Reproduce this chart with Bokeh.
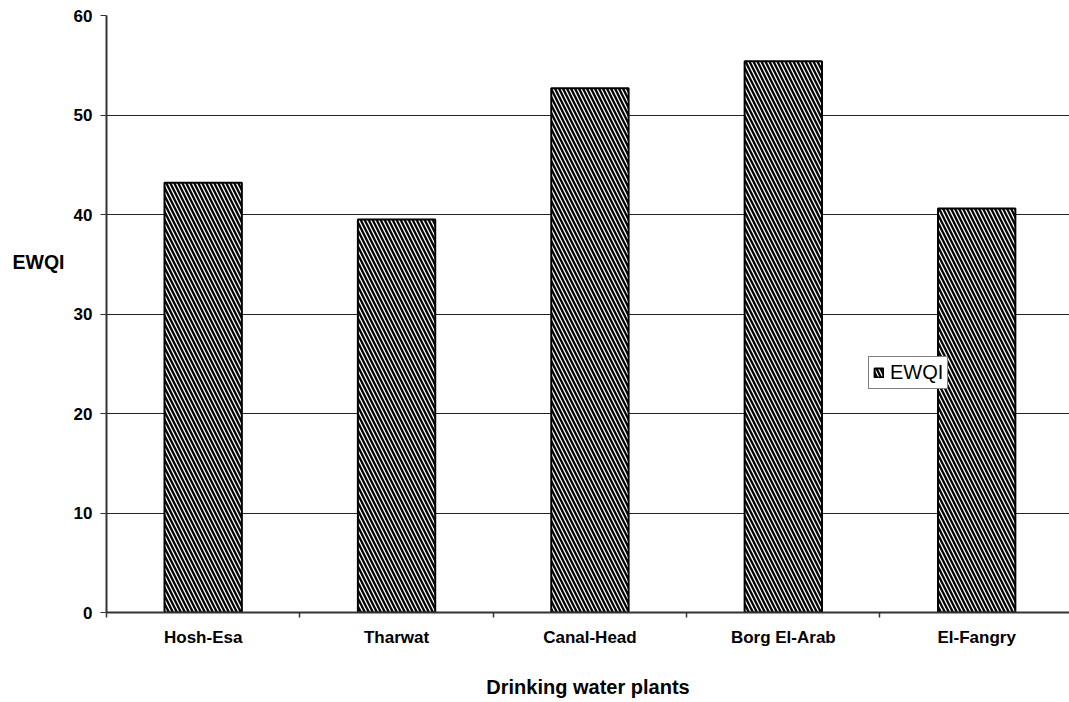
from bokeh.plotting import figure
from bokeh.models import Range1d, FixedTicker, LinearAxis, Legend, LegendItem, ColumnDataSource
from bokeh.embed import file_html
from bokeh.resources import INLINE

plants = ["Hosh-Esa", "Tharwat", "Canal-Head", "Borg El-Arab", "El-Fangry"]
ewqi = [43.2, 39.5, 52.7, 55.4, 40.6]
y_ticks = [0, 10, 20, 30, 40, 50, 60]
y_title = "EWQI"
x_title = "Drinking water plants"

xpos = [i + 0.5 for i in range(len(plants))]
src = ColumnDataSource(dict(x=xpos, top=ewqi, name=plants))

H = 700
p = figure(width=1069, height=H, output_backend="svg", toolbar_location=None,
           x_range=Range1d(0, 4.98), y_range=Range1d(0, 60),
           min_border_left=106, min_border_right=0, min_border_top=15, min_border_bottom=H - 612)
p.outline_line_color = None
p.background_fill_color = "white"

r = p.vbar(x="x", top="top", width=0.40, source=src, fill_color="white",
           line_color="black", line_width=2,
           hatch_pattern="\\", hatch_color="black", hatch_scale=8, hatch_weight=2.3)

# grid
p.xgrid.grid_line_color = None
p.ygrid.ticker = FixedTicker(ticks=y_ticks)
p.ygrid.grid_line_color = "#222222"
p.ygrid.grid_line_width = 1

# y axis
p.yaxis.ticker = FixedTicker(ticks=y_ticks)
p.yaxis.axis_line_color = "#333333"
p.yaxis.axis_line_width = 2
p.yaxis.major_tick_out = 6
p.yaxis.major_tick_in = 0
p.yaxis.major_tick_line_color = "#333333"
p.yaxis.minor_tick_line_color = None
p.yaxis.major_label_standoff = 8
p.yaxis.major_label_text_font = "Liberation Sans"
p.yaxis.major_label_text_font_style = "bold"
p.yaxis.major_label_text_font_size = "17px"
p.yaxis.major_label_text_color = "black"

# horizontal y-axis title, drawn as an outer axis label at its position
title_y = 35.2
tax = LinearAxis(ticker=FixedTicker(ticks=[title_y]),
                 major_label_overrides={title_y: y_title},
                 axis_line_color=None, major_tick_line_color=None, minor_tick_line_color=None,
                 major_tick_out=0, major_tick_in=0, major_label_standoff=6,
                 major_label_text_font="Liberation Sans", major_label_text_font_style="bold",
                 major_label_text_font_size="19.5px", major_label_text_color="black")
p.add_layout(tax, "left")

# x axis
p.xaxis.ticker = FixedTicker(ticks=xpos, minor_ticks=list(range(len(plants) + 1)))
p.xaxis.major_label_overrides = {x: n for x, n in zip(xpos, plants)}
p.xaxis.major_tick_line_color = None
p.xaxis.minor_tick_out = 5
p.xaxis.minor_tick_in = 0
p.xaxis.minor_tick_line_color = "#333333"
p.xaxis.minor_tick_line_width = 1.5
p.xaxis.axis_line_color = "#333333"
p.xaxis.axis_line_width = 2
p.xaxis.major_label_standoff = 9
p.xaxis.major_label_text_font = "Liberation Sans"
p.xaxis.major_label_text_font_style = "bold"
p.xaxis.major_label_text_font_size = "17px"
p.xaxis.major_label_text_color = "black"
p.xaxis.axis_label = x_title
p.xaxis.axis_label_standoff = 26
p.xaxis.axis_label_text_font = "Liberation Sans"
p.xaxis.axis_label_text_font_style = "bold"
p.xaxis.axis_label_text_font_size = "20px"
p.xaxis.axis_label_text_color = "black"

legend = Legend(items=[LegendItem(label=y_title, renderers=[r])],
                location=(762, 223), border_line_color="black", border_line_width=1,
                background_fill_color="white", background_fill_alpha=1,
                padding=4, margin=0, spacing=0, glyph_width=11, glyph_height=11,
                label_standoff=6, label_text_font="Liberation Sans",
                label_text_font_size="20px", label_height=21, label_text_color="black")
p.add_layout(legend, "center")

open("out.html", "w").write(file_html(p, INLINE))
